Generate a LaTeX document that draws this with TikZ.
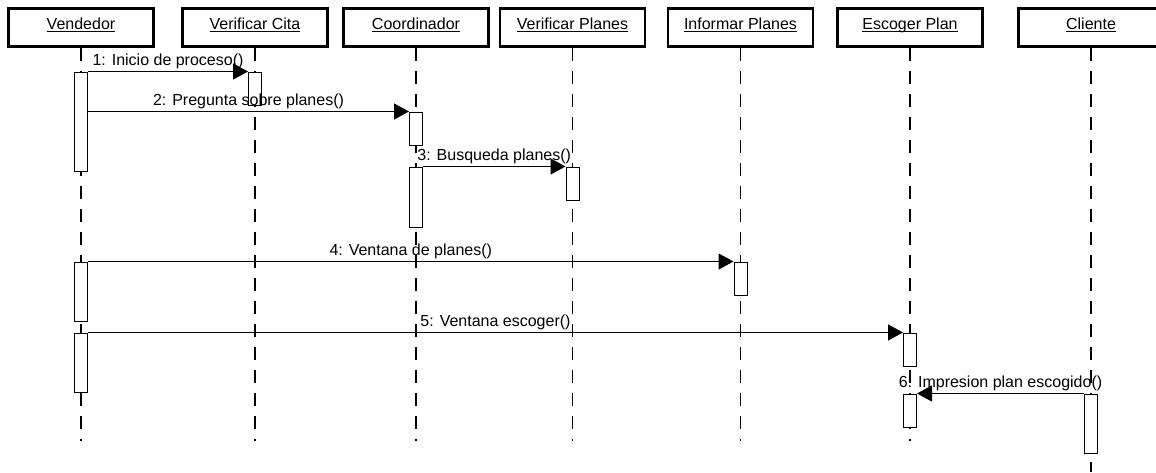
\documentclass[tikz,border=0pt]{standalone}
\usepackage{fontspec}
\setmainfont{Liberation Sans}
\usetikzlibrary{arrows.meta}
% underlined object name with a fixed underline position
\newsavebox\hdrbox
\newcommand\hdrtxt[1]{\sbox\hdrbox{#1}\rlap{\rule[-3pt]{\wd\hdrbox}{1pt}}\usebox\hdrbox}
\begin{document}
\begin{tikzpicture}[x=1pt,y=-1pt,
  font=\fontsize{16}{19}\selectfont,
  objbox/.style={draw, line width=2.6pt, minimum width=145pt, minimum height=38pt,
    inner sep=0pt, text height=12pt, text depth=8pt},
  lifeline/.style={line width=1.2pt, dash pattern=on 13pt off 10pt},
  actbox/.style={draw, fill=white, line width=1pt, minimum width=13pt, inner sep=0pt},
  msg/.style={line width=1.2pt, -{Triangle[length=15pt,width=16pt]}},
  msglbl/.style={midway, anchor=base, yshift=6pt, inner sep=0pt}
]
\useasboundingbox (0,0) rectangle (1156,472);

% objects
\node[objbox] (ven) at (81,27.25)   {\hdrtxt{Vendedor}};
\node[objbox] (vci) at (255,27.25)  {\hdrtxt{Verificar Cita}};
\node[objbox] (coo) at (416,27.25)  {\hdrtxt{Coordinador}};
\node[objbox] (vpl) at (572.5,27.25) {\hdrtxt{Verificar Planes}};
\node[objbox] (ipl) at (740.5,27.25) {\hdrtxt{Informar Planes}};
\node[objbox] (esc) at (910,27.25)  {\hdrtxt{Escoger Plan}};
\node[objbox] (cli) at (1091,27.25) {\hdrtxt{Cliente}};

% lifeline ends
\coordinate (venE) at (81,441);
\coordinate (vciE) at (255,441);
\coordinate (cooE) at (416,441);
\coordinate (vplE) at (572.5,441);
\coordinate (iplE) at (740.5,441);
\coordinate (escE) at (910,441);
\coordinate (cliE) at (1091,472);

% lifelines
\foreach \o in {ven,vci,coo,vpl,ipl,esc,cli}
  \draw[lifeline] (\o.south) -- (\o E);

% activations
\node[actbox, minimum height=99pt] (va1) at (81,121.5) {};
\node[actbox, minimum height=59pt] (va2) at (81,291.5) {};
\node[actbox, minimum height=59pt] (va3) at (81,362.5) {};
\node[actbox, minimum height=33pt] (vca) at (255,88.5) {};
\node[actbox, minimum height=33pt] (ca1) at (416,128.5) {};
\node[actbox, minimum height=60pt] (ca2) at (416,197) {};
\node[actbox, minimum height=33pt] (vpa) at (572.5,183.5) {};
\node[actbox, minimum height=33pt] (ipa) at (740.5,278.5) {};
\node[actbox, minimum height=33pt] (ea1) at (910,349.5) {};
\node[actbox, minimum height=33pt] (ea2) at (910,410.5) {};
\node[actbox, minimum height=59pt] (cla) at (1091,423.5) {};

% messages
\draw[msg] (va1.north east) -- node[msglbl] (m1) {1: Inicio de proceso()} (vca.north west);
\draw[msg] (va1.east |- ca1.north) -- node[msglbl] (m2) {2: Pregunta sobre planes()} (ca1.north west);
\draw[msg] (ca2.north east) -- node[msglbl] (m3) {3: Busqueda planes()} (vpa.north west);
\draw[msg] (va2.north east) -- node[msglbl] (m4) {4: Ventana de planes()} (ipa.north west);
\draw[msg] (va3.north east) -- node[msglbl] (m5) {5: Ventana escoger()} (ea1.north west);
\draw[msg] (cla.north west) -- node[msglbl] (m6) {6: Impresion plan escogido()} (ea2.north east);
\end{tikzpicture}
\end{document}
